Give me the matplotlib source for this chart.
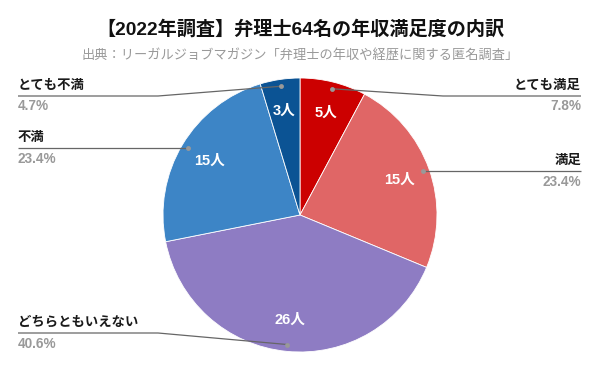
import numpy as np
import matplotlib.pyplot as plt

categories = ['とても満足', '満足', 'どちらともいえない', '不満', 'とても不満']
counts = [5, 15, 26, 15, 3]
colors = ['#cc0000', '#e06666', '#8e7cc3', '#3d85c6', '#0b5394']

title = '【2022年調査】弁理士64名の年収満足度の内訳'
subtitle = '出典：リーガルジョブマガジン「弁理士の年収や経歴に関する匿名調査」'

# label layout: side, y of the leader line (px from top), elbow x (None = straight)
sides = ['right', 'right', 'left', 'left', 'left']
line_y = [96, None, 333, None, 96]
elbow_x = [443, None, 158, None, 158]

W, H = 600, 371
cx, cy, R = 300, 215, 137

FONT = ['Liberation Sans', 'Noto Sans CJK JP', 'DejaVu Sans']


def py(y):
    # pixel-from-top -> axes y
    return H - y


fig = plt.figure(figsize=(6, 3.71), dpi=100)
ax = fig.add_axes([0, 0, 1, 1])

ax.pie(counts, colors=colors, startangle=90, counterclock=False,
       center=(cx, py(cy)), radius=R,
       wedgeprops=dict(edgecolor='white', linewidth=0.6))
ax.set_xlim(0, W)
ax.set_ylim(0, H)
ax.set_aspect('auto')
ax.axis('off')

total = sum(counts)
frac = np.array(counts) / total
start = 90 - 360 * np.concatenate([[0], np.cumsum(frac)[:-1]])
mid = np.deg2rad(start - 360 * frac / 2)

for i, name in enumerate(categories):
    a = mid[i]
    # count inside slice
    ax.text(cx + 0.77 * R * np.cos(a), py(cy) + 0.77 * R * np.sin(a),
            f'{counts[i]}人', color='white', fontsize=10.5, fontweight='bold',
            family=FONT, ha='center', va='center')

    dx = cx + 0.95 * R * np.cos(a)
    dy = py(cy) + 0.95 * R * np.sin(a)
    ly = dy if line_y[i] is None else py(line_y[i])
    ex = dx if elbow_x[i] is None else elbow_x[i]
    xe = 581 if sides[i] == 'right' else 18
    ha = 'right' if sides[i] == 'right' else 'left'
    ax.plot([dx, ex, xe], [dy, ly, ly], color='#666666', lw=0.9,
            solid_capstyle='butt')
    ax.plot(dx, dy, 'o', color='#999999', ms=3.5, mec='none')

    ax.text(xe, ly + 10.5, name, fontsize=9.6, fontweight='bold',
            color='#1a1a1a', family=FONT, ha=ha, va='center')
    ax.text(xe, ly - 10.5, f'{100 * frac[i]:.1f}%', fontsize=9.8,
            fontweight='bold', color='#999999', family=FONT,
            ha=ha, va='center')

ax.text(W / 2, py(29), title, fontsize=13.8, fontweight='bold',
        color='#111111', family=FONT, ha='center', va='center')
ax.text(W / 2, py(55), subtitle, fontsize=9.5, color='#999999',
        family=FONT, ha='center', va='center')

fig.savefig('out.png', dpi=100)
